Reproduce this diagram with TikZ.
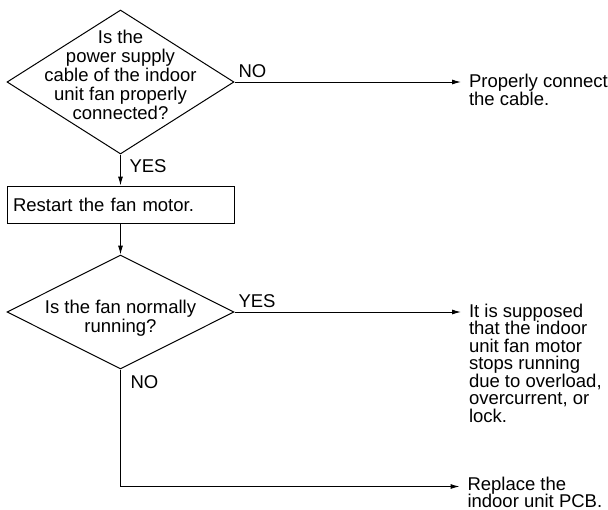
\documentclass[tikz,border=0pt]{standalone}
\usepackage{fontspec}
\setmainfont{Liberation Sans}
\usepackage{tikz}
\usetikzlibrary{shapes.geometric}
\usetikzlibrary{positioning}
\usetikzlibrary{arrows.meta}

\begin{document}
\begin{tikzpicture}[x=1pt,y=1pt,line width=1pt,font=\fontsize{18.5}{18}\selectfont,
  decision/.style={draw,shape=diamond,inner sep=0pt,minimum width=227pt},
  qtext/.style={align=center,inner sep=0pt,font=\fontsize{18.5}{19}\selectfont},
  action/.style={draw,rectangle,inner xsep=6pt,text width=215pt,minimum height=37pt,align=left},
  result/.style={align=left,inner sep=0pt,font=\fontsize{18.5}{17.5}\selectfont},
  lbl/.style={inner sep=3.5pt},
  flow/.style={-{Latex[length=9pt,width=5pt]}}]
  \useasboundingbox (0,0) rectangle (608,-509);
  \node[decision,minimum height=144pt] (q1) at (120.5,-82) {};
  \node[qtext] (q1text) at ([yshift=7pt]q1.center) {Is the\\power supply\\cable of the indoor\\unit fan properly\\connected?};
  \node[action,below=31pt of q1.south] (restart) {Restart the fan motor.};
  \node[decision,minimum height=114pt,below=31pt of restart] (q2) {};
  \node[qtext] (q2text) at ([yshift=-6pt]q2.center) {Is the fan normally\\running?};
  \coordinate[below=117pt of q2.south] (bend);
  \node[result,right=234pt of q1.east,anchor=north west,yshift=8pt] (fix1) {Properly connect\\the cable.};
  \node[result,right=234pt of q2.east,anchor=north west,yshift=8.5pt] (fix2) {It is supposed\\that the indoor\\unit fan motor\\stops running\\due to overload,\\overcurrent, or\\lock.};
  \node[result,right=346.5pt of bend,anchor=north west,yshift=10pt] (fix3) {Replace the\\indoor unit PCB.};
  \draw[flow] (q1.south) -- node[lbl,pos=0.05,anchor=north west,xshift=5pt] {YES} (restart.north);
  \draw[flow] (restart.south) -- (q2.north);
  \draw[flow,shorten >=7.5pt] (q1.east) -- node[lbl,at start,anchor=south west] {NO} (q1.east -| fix1.west);
  \draw[flow,shorten >=7.5pt] (q2.east) -- node[lbl,at start,anchor=south west] {YES} (q2.east -| fix2.west);
  \draw[flow,shorten >=7.5pt] (q2.south) -- node[lbl,pos=0.02,anchor=north west,xshift=6pt] {NO} (bend) -- (bend -| fix3.west);
\end{tikzpicture}
\end{document}
